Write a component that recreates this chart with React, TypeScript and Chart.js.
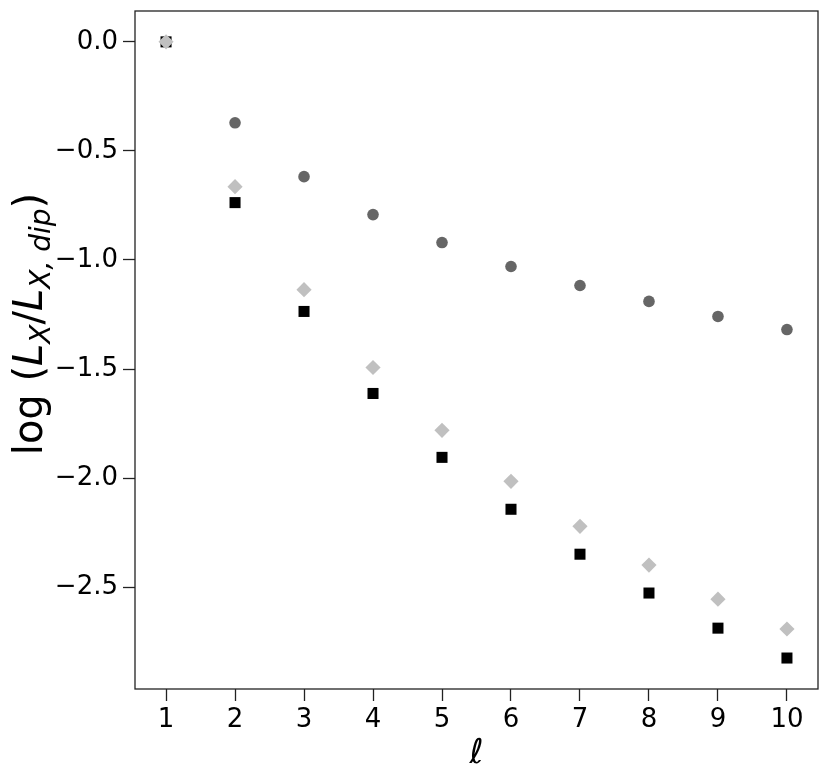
import React, { useEffect, useRef } from "react";
import { Chart, registerables } from "chart.js";

Chart.register(...registerables);

const ellValues = [1, 2, 3, 4, 5, 6, 7, 8, 9, 10];
const circleSeries = [0, -0.371, -0.618, -0.792, -0.92, -1.03, -1.117, -1.19, -1.259, -1.319];
const diamondSeries = [0, -0.664, -1.136, -1.493, -1.781, -2.015, -2.221, -2.399, -2.555, -2.692];
const squareSeries = [0, -0.737, -1.236, -1.612, -1.905, -2.143, -2.349, -2.527, -2.688, -2.825];
const xTicks = [1, 2, 3, 4, 5, 6, 7, 8, 9, 10];
const yTicks = [-2.5, -2.0, -1.5, -1.0, -0.5, 0.0];

const FONT = "'DejaVu Sans', sans-serif";

const labelsPlugin = {
  id: "customLabels",
  afterDraw(chart: any) {
    const ctx = chart.ctx as CanvasRenderingContext2D;
    const area = chart.chartArea;
    // frame
    ctx.save();
    ctx.strokeStyle = "#222";
    ctx.lineWidth = 1.3;
    ctx.strokeRect(area.left, area.top, area.right - area.left, area.bottom - area.top);
    ctx.restore();

    // x label
    ctx.save();
    ctx.fillStyle = "#000";
    ctx.font = `italic 34px ${FONT}`;
    ctx.textAlign = "center";
    ctx.textBaseline = "alphabetic";
    ctx.fillText("ℓ", (area.left + area.right) / 2, 763);
    ctx.restore();

    // y label with subscripts
    const F = 40;
    const S = 28;
    const segs: { t: string; font: string; dy: number }[] = [
      { t: "log (", font: `${F}px ${FONT}`, dy: 0 },
      { t: "L", font: `italic ${F}px ${FONT}`, dy: 0 },
      { t: "X", font: `italic ${S}px ${FONT}`, dy: 8 },
      { t: "/", font: `${F}px ${FONT}`, dy: 0 },
      { t: "L", font: `italic ${F}px ${FONT}`, dy: 0 },
      { t: "X,", font: `italic ${S}px ${FONT}`, dy: 8 },
      { t: " dip", font: `italic ${S}px ${FONT}`, dy: 8 },
      { t: ")", font: `${F}px ${FONT}`, dy: 0 },
    ];
    ctx.save();
    let total = 0;
    const widths = segs.map((s) => {
      ctx.font = s.font;
      const w = ctx.measureText(s.t).width;
      total += w;
      return w;
    });
    const cy = 324;
    const bx = 42;
    ctx.translate(bx, cy);
    ctx.rotate(-Math.PI / 2);
    ctx.fillStyle = "#000";
    ctx.textAlign = "left";
    ctx.textBaseline = "alphabetic";
    let x = -total / 2;
    segs.forEach((s, i) => {
      ctx.font = s.font;
      ctx.fillText(s.t, x, s.dy);
      x += widths[i];
    });
    ctx.restore();
  },
};

function fmt(v: number) {
  const a = Math.abs(v).toFixed(1);
  return v < -1e-9 ? "\u2212" + a : a;
}

export default function App() {
  const ref = useRef<HTMLCanvasElement | null>(null);
  useEffect(() => {
    document.body.style.margin = "0";
    const canvas = ref.current!;
    const toPts = (ys: number[]) => ys.map((y, i) => ({ x: ellValues[i], y }));
    const chart = new Chart(canvas, {
      type: "scatter",
      data: {
        datasets: [
          {
            label: "diamond",
            data: toPts(diamondSeries),
            pointStyle: "rectRot",
            pointRadius: 7.6,
            pointHoverRadius: 7.6,
            backgroundColor: "#c0c0c0",
            borderWidth: 0,
            order: 0,
          },
          {
            label: "square",
            data: toPts(squareSeries),
            pointStyle: "rect",
            pointRadius: 7.8,
            pointHoverRadius: 7.8,
            backgroundColor: "#000000",
            borderWidth: 0,
            order: 1,
          },
          {
            label: "circle",
            data: toPts(circleSeries),
            pointStyle: "circle",
            pointRadius: 5.8,
            pointHoverRadius: 5.8,
            backgroundColor: "#666666",
            borderWidth: 0,
            order: 2,
          },
        ],
      },
      options: {
        responsive: false,
        animation: false,
        events: [],
        layout: { padding: { left: 0, right: 12, top: 11, bottom: 0 } },
        plugins: { legend: { display: false }, tooltip: { enabled: false } },
        scales: {
          x: {
            type: "linear",
            min: 0.55,
            max: 10.45,
            afterBuildTicks: (s: any) => {
              s.ticks = xTicks.map((v) => ({ value: v }));
            },
            afterFit: (s: any) => {
              s.height = 94;
              s.paddingLeft = 0;
              s.paddingRight = 0;
            },
            grid: {
              display: true,
              drawOnChartArea: false,
              drawTicks: true,
              tickLength: 12,
              tickWidth: 1.3,
              tickColor: "#222",
            },
            border: { display: false },
            ticks: {
              color: "#000",
              font: { family: FONT, size: 26 },
              padding: 4,
              maxRotation: 0,
              autoSkip: false,
              callback: (v: any) => String(v),
            },
          },
          y: {
            type: "linear",
            min: -2.967,
            max: 0.1415,
            afterBuildTicks: (s: any) => {
              s.ticks = yTicks.map((v) => ({ value: v }));
            },
            afterFit: (s: any) => {
              s.width = 135;
              s.paddingTop = 0;
              s.paddingBottom = 0;
            },
            grid: {
              display: true,
              drawOnChartArea: false,
              drawTicks: true,
              tickLength: 12,
              tickWidth: 1.3,
              tickColor: "#222",
            },
            border: { display: false },
            ticks: {
              color: "#000",
              font: { family: FONT, size: 26 },
              padding: 5,
              autoSkip: false,
              callback: (v: any) => fmt(Number(v)),
            },
          },
        },
      },
      plugins: [labelsPlugin],
    });
    return () => chart.destroy();
  }, []);
  return <canvas ref={ref} width={830} height={783} style={{ display: "block" }} />;
}
